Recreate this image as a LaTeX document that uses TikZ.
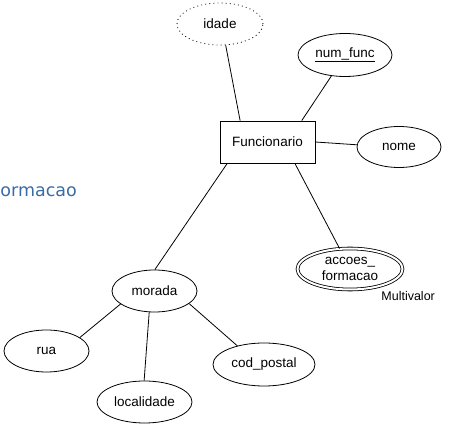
\documentclass[tikz,border=0pt]{standalone}
\usepackage{fontspec}
\setmainfont{Liberation Sans}
\newfontfamily\slidefont{DejaVu Sans}
\usepackage{xcolor}
\usetikzlibrary{shapes.geometric}
\definecolor{slideblue}{RGB}{58,108,164}

\begin{document}
\begin{tikzpicture}[x=1pt, y=1pt, line width=0.8pt,
	attr/.style = {ellipse, draw, inner sep=0pt, minimum width=85pt, minimum height=42pt,
		font=\fontsize{13.5}{16.5}\selectfont},
	entity/.style = {rectangle, draw, inner sep=0pt, minimum width=95pt, minimum height=42pt,
		font=\fontsize{13.5}{16.5}\selectfont}]
	\useasboundingbox (0,0) rectangle (460,425);

	% slide text behind
	\node[anchor=west, inner sep=0pt, text=slideblue, font=\slidefont\fontsize{17.5}{20}\selectfont] (slide) at (0,233) {ormacao};

	% entity
	\node[entity] (func) at (267.5,283) {Funcionario};

	% attributes
	\node[attr, dash pattern=on 0.9pt off 3.2pt, minimum width=86pt] (idade) at (220,401) {idade};
	\node[attr, minimum width=94pt, minimum height=43pt] (numfunc) at (345,370) {\underline{num\_func}};
	\node[attr, minimum width=84pt, minimum height=41pt] (nome) at (399,278) {nome};
	\node[attr, double, double distance=2pt, minimum width=105pt, minimum height=41pt, align=center] (accoes) at (350,156) {accoes\_\\formacao};
	\node[anchor=west, inner sep=0pt, font=\fontsize{12.5}{15}\selectfont] (multi) at (381,129) {Multivalor};

	% composite
	\node[attr] (morada) at (154.5,134) {morada};
	\node[attr] (rua) at (46.5,74) {rua};
	\node[attr, minimum width=102pt, minimum height=43pt] (codpostal) at (264,60.5) {cod\_postal};
	\node[attr, minimum width=95pt] (localidade) at (144.5,23) {localidade};

	\draw (idade.-75) -- (func.142);
	\draw (numfunc.-123) -- (func.32);
	\draw (func.east) -- (nome.177);
	\draw (func.208) -- (morada.89);
	\draw (func.-38) -- (accoes.117);

	\draw (morada.201) -- (rua.22);
	\draw (morada.256) -- (localidade.91);
	\draw (morada.-20) -- (codpostal.145);
\end{tikzpicture}
\end{document}
